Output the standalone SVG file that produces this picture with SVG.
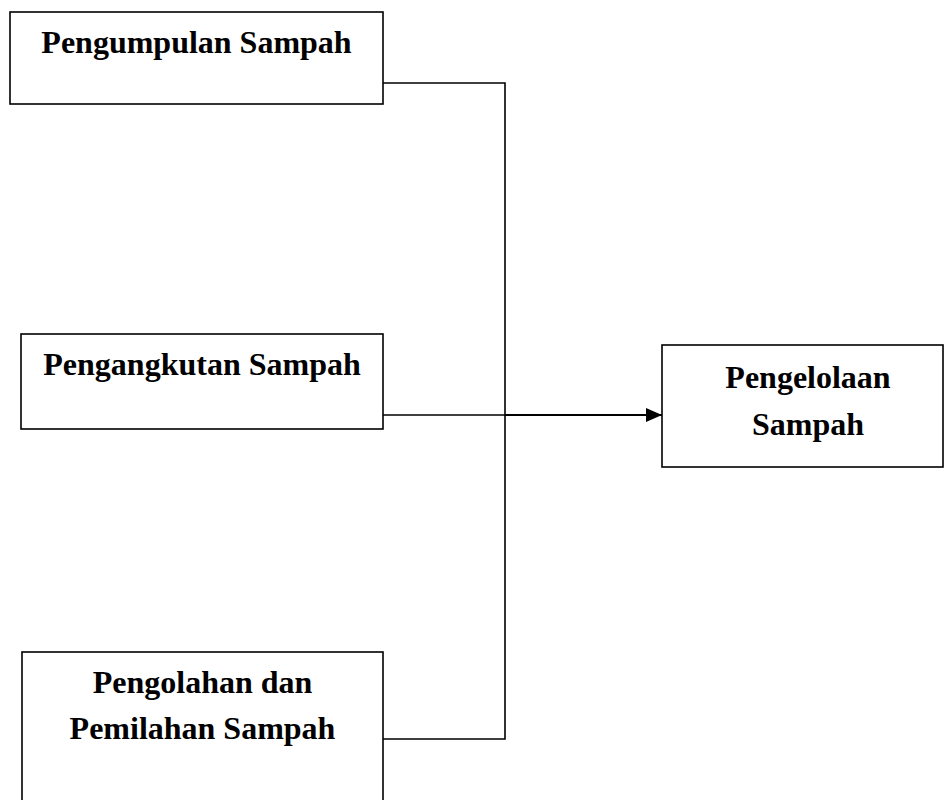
<svg xmlns="http://www.w3.org/2000/svg" width="944" height="800" viewBox="0 0 944 800">
<style>
.box{fill:#fff;stroke:#000;stroke-width:1.6}
.t{font-family:"Liberation Serif","Times New Roman",serif;font-weight:bold;font-size:32px;fill:#000;text-anchor:middle}
.c{fill:none;stroke:#000;stroke-width:1.6}
</style>
<defs>
<marker id="ah" markerWidth="16" markerHeight="14" refX="16" refY="7" orient="auto" markerUnits="userSpaceOnUse">
<path d="M0,0 L16,7 L0,14 Z" fill="#000"/>
</marker>
</defs>
<rect width="944" height="800" fill="#fff"/>
<g id="n1"><rect class="box" x="10" y="12" width="373" height="92"/><text class="t" x="196.5" y="53">Pengumpulan Sampah</text></g>
<g id="n2"><rect class="box" x="21" y="334" width="362" height="95"/><text class="t" x="202" y="375">Pengangkutan Sampah</text></g>
<g id="n3"><rect class="box" x="22" y="652" width="361" height="160"/><text class="t" x="202.5" y="693">Pengolahan dan</text><text class="t" x="202.5" y="739">Pemilahan Sampah</text></g>
<g id="n4"><rect class="box" x="662" y="345" width="281" height="122"/><text class="t" x="808" y="388">Pengelolaan</text><text class="t" x="808" y="435">Sampah</text></g>
<g id="connectors">
<polyline class="c" points="383,83 505,83 505,739 383,739"/>
<line class="c" x1="383" y1="415" x2="505" y2="415"/>
<line x1="505" y1="415" x2="662" y2="415" stroke="#000" stroke-width="2.2" marker-end="url(#ah)"/>
</g>
</svg>
